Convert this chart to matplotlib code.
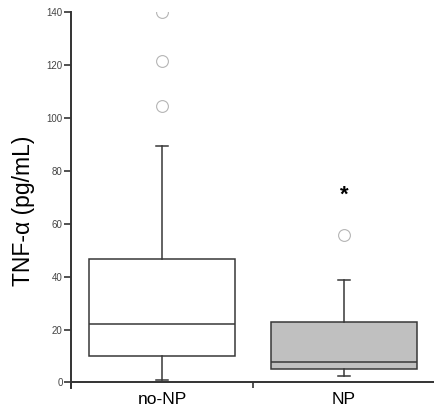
import matplotlib.pyplot as plt
import matplotlib.transforms as mtransforms
import numpy as np

plt.rcParams['font.family'] = ['Liberation Sans', 'DejaVu Sans']

# datos (TNF-alfa, pg/mL)
grupos = ['no-NP', 'NP']
q1 = [10.1, 5.0]
mediana = [22.1, 7.6]
q3 = [46.7, 22.9]
bigote_inf = [1.1, 2.6]
bigote_sup = [89.2, 38.8]
atipicos = [[104.4, 121.3, 140.0], [55.9]]
extremos = [[], [72.2]]
relleno = ['white', '#c0c0c0']

stats = []
for i in range(len(grupos)):
    stats.append({'q1': q1[i], 'med': mediana[i], 'q3': q3[i],
                  'whislo': bigote_inf[i], 'whishi': bigote_sup[i],
                  'fliers': atipicos[i], 'label': grupos[i]})

fig = plt.figure(figsize=(4.35, 4.08), dpi=100)
ax = fig.add_axes([71/435, 20/408, 364/435, 376/408])

pos = np.arange(len(grupos)) + 0.5
linea = dict(color='#383838', linewidth=1.1)
bp = ax.bxp(stats, positions=pos, widths=0.8, patch_artist=True,
            boxprops=dict(edgecolor='#383838', linewidth=1.1),
            medianprops=linea, whiskerprops=linea,
            capprops=linea, capwidths=0.07,
            flierprops=dict(marker='o', markersize=8.5, markerfacecolor='none',
                            markeredgecolor='#b5b5b5', markeredgewidth=0.8,
                            linestyle='none'))
for caja, c in zip(bp['boxes'], relleno):
    caja.set_facecolor(c)

# asterisco (valor extremo), bajado unos pixeles para centrar el glifo
trans_ast = mtransforms.offset_copy(ax.transData, fig=fig, x=0, y=-4, units='dots')
for i, vals in enumerate(extremos):
    for v in vals:
        ax.text(pos[i], v, '*', ha='center', va='center', fontsize=16,
                fontweight='bold', color='black', transform=trans_ast)

ax.set_xlim(0, 364/186)
ax.set_ylim(-2.1, 140)
ax.spines['top'].set_visible(False)
ax.spines['right'].set_visible(False)
ax.spines['left'].set_color('#333333')
ax.spines['bottom'].set_color('#333333')
ax.spines['left'].set_linewidth(1.4)
ax.spines['bottom'].set_linewidth(1.4)
ax.spines['bottom'].set_position(('data', 0))

ax.set_yticks(np.arange(0, 141, 20))
ax.tick_params(axis='y', length=5, width=1.2, color='#333333',
               labelsize=7, labelcolor='#444444', pad=1)

ax.set_xticks([0, 1, 2])
ax.set_xticklabels([])
ax.set_xticks(pos, minor=True)
ax.set_xticklabels(grupos, minor=True)
ax.tick_params(axis='x', which='major', length=4, width=1.2, color='#333333')
ax.tick_params(axis='x', which='minor', length=0, labelsize=12.5, pad=7)

fig.text(24/435, 1 - 211/408, 'TNF-α (pg/mL)', rotation=90, fontsize=16.5,
         ha='center', va='center')

fig.savefig('out.png', dpi=100)
